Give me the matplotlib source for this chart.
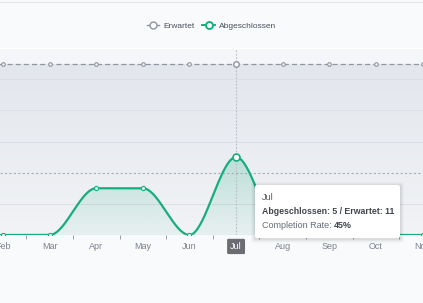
import numpy as np
import matplotlib
matplotlib.use("Agg")
import matplotlib.pyplot as plt
from matplotlib.lines import Line2D
from matplotlib.patches import FancyBboxPatch

plt.rcParams['font.family'] = ['Liberation Sans', 'DejaVu Sans']

# --- data ---
months = ['Jan', 'Feb', 'Mar', 'Apr', 'May', 'Jun', 'Jul', 'Aug', 'Sep', 'Oct', 'Nov', 'Dec']
erwartet = [11, 11, 11, 11, 11, 11, 11, 11, 11, 11, 11, 11]
abgeschlossen = [0, 0, 0, 3, 3, 0, 5, 0, 0, 0, 0, 0]
hover_idx = 6  # Jul

green = '#17ae7e'
gray_line = '#8f95a3'


# monotone cubic (Fritsch-Carlson) for the smooth line, like cubicInterpolationMode 'monotone'
def monotone(x, y, n=40):
    x = np.asarray(x, float)
    y = np.asarray(y, float)
    h = np.diff(x)
    d = np.diff(y) / h
    m = np.zeros_like(y)
    m[0], m[-1] = d[0], d[-1]
    for i in range(1, len(y) - 1):
        if d[i - 1] * d[i] <= 0:
            m[i] = 0
        else:
            m[i] = (d[i - 1] + d[i]) / 2
    for i in range(len(d)):
        if d[i] == 0:
            m[i] = m[i + 1] = 0
        else:
            a, b = m[i] / d[i], m[i + 1] / d[i]
            s = a * a + b * b
            if s > 9:
                t = 3 / np.sqrt(s)
                m[i], m[i + 1] = t * a * d[i], t * b * d[i]
    xs, ys = [], []
    for i in range(len(d)):
        t = np.linspace(0, 1, n, endpoint=False)
        h00 = 2 * t**3 - 3 * t**2 + 1
        h10 = t**3 - 2 * t**2 + t
        h01 = -2 * t**3 + 3 * t**2
        h11 = t**3 - t**2
        xs.append(x[i] + t * h[i])
        ys.append(h00 * y[i] + h10 * h[i] * m[i] + h01 * y[i + 1] + h11 * h[i] * m[i + 1])
    xs.append([x[-1]])
    ys.append([y[-1]])
    return np.concatenate(xs), np.concatenate(ys)


x = np.arange(len(months))
sx, sy = monotone(x, abgeschlossen)

fig = plt.figure(figsize=(4.23, 3.03), dpi=100, facecolor='#f9fafb')
ax = fig.add_axes([0, 68 / 303, 1, 187 / 303])
ax.set_facecolor('#f5f6f9')

# grid
for gy in [2, 6, 8, 10]:
    ax.axhline(gy, color='#dfe2e8', lw=0.8, zorder=1)
ax.axhline(4, color='#a9adb6', lw=0.8, ls=(0, (2, 2)), zorder=2.6)

# Erwartet gradient fill
grad = np.linspace(0, 1, 100).reshape(-1, 1)
c_top = np.array([0.890, 0.902, 0.925])
c_bot = np.array([0.945, 0.953, 0.965])
img = c_bot + (c_top - c_bot) * grad
img = img.reshape(100, 1, 3)
im = ax.imshow(img, extent=[0, 11, 0, 11], origin='lower', aspect='auto', zorder=1.5)
poly = ax.fill_between(x, erwartet, 0, color='none')
im.set_clip_path(poly.get_paths()[0], transform=ax.transData)
for gy in [2, 6, 8, 10]:
    ax.axhline(gy, color='#dcdfe5', lw=0.7, zorder=1.6)

ax.plot(x, erwartet, color=gray_line, lw=0.9, ls=(0, (4, 2.5)), zorder=3)
ax.plot(x, erwartet, ls='none', marker='o', ms=2.6, mfc='#f3f4f7', mec=gray_line, mew=0.8, zorder=4)
ax.plot(x[hover_idx], erwartet[hover_idx], marker='o', ms=4, mfc='white', mec=gray_line, mew=1, zorder=5)

# Abgeschlossen gradient fill
g_img = np.zeros((100, 1, 4))
g_img[:, 0, :3] = matplotlib.colors.to_rgb(green)
g_img[:, 0, 3] = np.linspace(0.04, 0.22, 100)
gim = ax.imshow(g_img, extent=[0, 11, 0, 5], origin='lower', aspect='auto', zorder=2)
gpoly = ax.fill_between(sx, sy, 0, color='none')
gim.set_clip_path(gpoly.get_paths()[0], transform=ax.transData)

ax.plot(sx, sy, color=green, lw=1.6, zorder=6, solid_capstyle='round')
ax.plot(x, abgeschlossen, ls='none', marker='o', ms=3, mfc='#e8f6f0', mec=green, mew=0.8, zorder=7)
ax.plot(x[hover_idx], abgeschlossen[hover_idx], marker='o', ms=5, mfc='white', mec=green, mew=1.2, zorder=8)

# crosshair
ax.axvline(x[hover_idx], color='#b9bdc6', lw=0.8, ls=(0, (1.5, 1.5)), zorder=2.5)

# axes styling
for s in ['left', 'right', 'bottom']:
    ax.spines[s].set_visible(False)
ax.spines['top'].set_color('white')
ax.spines['top'].set_linewidth(1)
ax.axhline(0, color='#d6d9df', lw=0.8, zorder=1.7)
ax.set_yticks([])
ax.set_xticks(x)
ax.set_xticklabels(months, fontsize=6.5, color='#7b8190')
ax.set_xticks(x + 0.5, minor=True)
ax.tick_params(axis='x', which='major', length=0, pad=5)
ax.tick_params(axis='x', which='minor', length=3, color='#9aa0ab', width=0.7)
ax.set_xlim(0.936, 10.01)
ax.set_ylim(0, 12)

# highlighted hover label
lab = ax.get_xticklabels()[hover_idx]
lab.set_color('white')
lab.set_bbox(dict(boxstyle='round,pad=0.35,rounding_size=0.15', fc='#6b6d72', ec='none'))

# top border line
fig.add_artist(Line2D([0, 1], [0.995, 0.995], color='#e4e6ea', lw=0.8))

# legend
handles = [
    Line2D([], [], color=gray_line, lw=1, marker='o', ms=5, mfc='white', mec=gray_line, mew=1),
    Line2D([], [], color=green, lw=1.4, marker='o', ms=5, mfc='white', mec=green, mew=1.4),
]
fig.legend(handles, ['Erwartet', 'Abgeschlossen'], loc='center', bbox_to_anchor=(0.5, 0.914),
           ncol=2, frameon=False, fontsize=6, handlelength=1.5, handletextpad=0.5,
           columnspacing=0.9, labelcolor='#4b5060')

# tooltip
tx0, ty0, tw, th = 255 / 423, 1 - 238 / 303, 145 / 423, 53 / 303
for k, a in enumerate([0.05, 0.04, 0.03]):
    d = (k + 1) * 1.2
    fig.add_artist(FancyBboxPatch((tx0 - d / 423, ty0 - (d + 1) / 303), tw + 2 * d / 423, th + 2 * d / 303,
                                  boxstyle='round,pad=0,rounding_size=0.006', fc='black', ec='none',
                                  alpha=a, transform=fig.transFigure, zorder=20))
fig.add_artist(FancyBboxPatch((tx0, ty0), tw, th, boxstyle='round,pad=0,rounding_size=0.006',
                              fc='white', ec='none', transform=fig.transFigure, zorder=21))
rate = round(abgeschlossen[hover_idx] / erwartet[hover_idx] * 100)
tx = 262 / 423
fig.text(tx, 1 - 197 / 303, months[hover_idx], fontsize=6.6, color='#555a66', va='center', zorder=22)
fig.text(tx, 1 - 212 / 303, f'Abgeschlossen: {abgeschlossen[hover_idx]} / Erwartet: {erwartet[hover_idx]}',
         fontsize=6.3, color='#40444d', fontweight='bold', va='center', zorder=22)
t1 = fig.text(tx, 1 - 225 / 303, 'Completion Rate: ', fontsize=6.5, color='#666b77', va='center', zorder=22)
fig.canvas.draw()
bb = t1.get_window_extent()
fig.text(bb.x1 / fig.bbox.width, 1 - 225 / 303, f'{rate}%', fontsize=6.5, color='#40444d',
         fontweight='bold', va='center', zorder=22)

fig.savefig('out.png', dpi=100, facecolor=fig.get_facecolor())
